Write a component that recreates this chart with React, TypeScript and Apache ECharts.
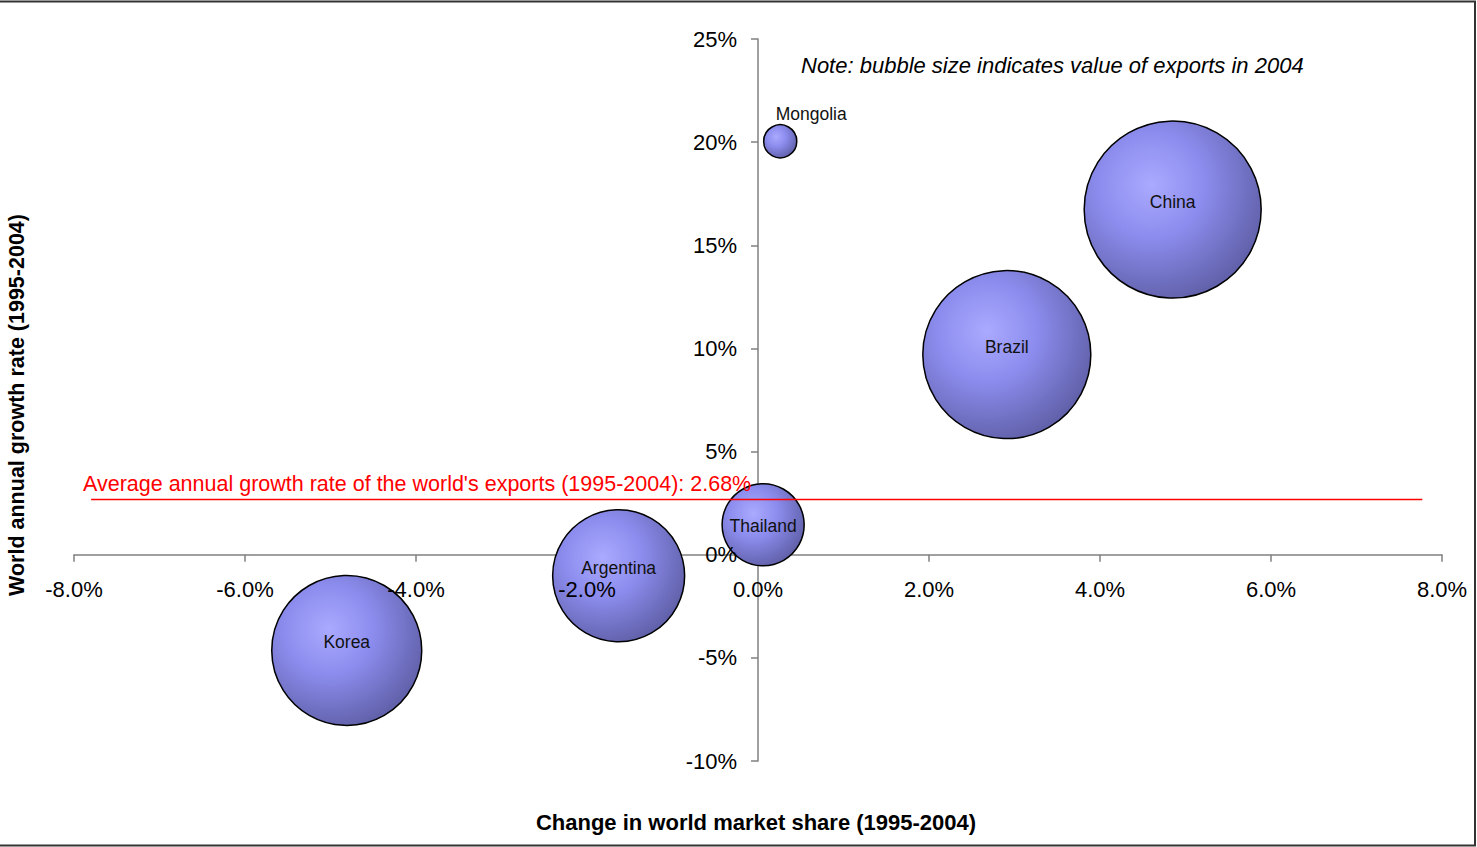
import React, { useEffect, useRef } from "react";
import * as echarts from "echarts";

// Country bubbles: change in world market share vs. world annual growth rate (1995-2004)
const countries = ["Korea", "Argentina", "Thailand", "Mongolia", "Brazil", "China"];
const marketShareChange = [-4.81, -1.63, 0.06, 0.26, 2.91, 4.85];
const annualGrowth = [-4.64, -1.02, 1.45, 20.04, 9.7, 16.73];
// Relative value of exports in 2004 (China = 100); bubble area follows it
const exportIndex = [71.8, 55.6, 21.5, 3.5, 90.1, 100];

// World average growth of exports, drawn as a horizontal reference line
const avgGrowth = 2.68;
const avgLineFrom = -7.8;
const avgLineTo = 7.77;

const xTicks = { min: -8, max: 8, interval: 2 };
const yTicks = { min: -10, max: 25, interval: 5 };

const FONT = "'Liberation Sans', Arial, sans-serif";
const MAX_DIAMETER = 177;
const WIDTH = 1477;
const HEIGHT = 847;
const GRID = { left: 74, right: 35, top: 39, bottom: 86 };

const bubbleFill = new echarts.graphic.RadialGradient(0.38, 0.36, 0.66, [
  { offset: 0, color: "#aaaaff" },
  { offset: 0.45, color: "#8c8cee" },
  { offset: 1, color: "#6262ac" },
]);

export default function App() {
  const ref = useRef<HTMLDivElement>(null);

  useEffect(() => {
    if (!ref.current) return;
    const chart = echarts.init(ref.current, null, { renderer: "svg" });

    const bubbleData = countries.map((name, i) => {
      const isSmall = name === "Mongolia";
      const isThailand = name === "Thailand";
      return {
        name,
        value: [marketShareChange[i], annualGrowth[i], exportIndex[i]],
        label: isSmall
          ? { position: "top", distance: 1, offset: [31, 0] }
          : { position: "inside", offset: [0, isThailand ? 1 : -8] },
      };
    });

    // Tick labels live on a second pair of axes drawn above the bubbles,
    // shifted from the grid edges onto the zero lines.
    const plotW = WIDTH - GRID.left - GRID.right;
    const plotH = HEIGHT - GRID.top - GRID.bottom;
    const xLabelShift = (plotH * (0 - yTicks.min)) / (yTicks.max - yTicks.min);
    const yLabelShift = (plotW * (0 - xTicks.min)) / (xTicks.max - xTicks.min);

    const labelAxisBase = {
      type: "value" as const,
      axisLine: { show: false, onZero: false },
      axisTick: { show: false },
      splitLine: { show: false },
      z: 5,
    };

    chart.setOption({
      animation: false,
      backgroundColor: "#ffffff",
      grid: { ...GRID, outerBoundsMode: "none" },
      xAxis: [
        {
          type: "value",
          ...xTicks,
          position: "bottom",
          axisLine: { onZero: true, lineStyle: { color: "#808080", width: 1.5 } },
          axisTick: { show: true, length: 7, lineStyle: { color: "#808080", width: 1.5 } },
          axisLabel: { show: false },
          splitLine: { show: false },
          z: 0,
        },
        {
          ...labelAxisBase,
          ...xTicks,
          position: "bottom",
          offset: -xLabelShift,
          axisLabel: {
            margin: 24,
            fontSize: 22,
            color: "#000",
            fontFamily: FONT,
            formatter: (v: number) => v.toFixed(1) + "%",
          },
        },
      ],
      yAxis: [
        {
          type: "value",
          ...yTicks,
          position: "left",
          axisLine: { onZero: true, lineStyle: { color: "#808080", width: 1.5 } },
          axisTick: { show: true, length: 7, lineStyle: { color: "#808080", width: 1.5 } },
          axisLabel: { show: false },
          splitLine: { show: false },
          z: 0,
        },
        {
          ...labelAxisBase,
          ...yTicks,
          position: "left",
          offset: -yLabelShift,
          axisLabel: {
            margin: 21,
            fontSize: 22,
            color: "#000",
            fontFamily: FONT,
            formatter: (v: number) => v + "%",
          },
        },
      ],
      series: [
        {
          type: "scatter",
          xAxisIndex: 0,
          yAxisIndex: 0,
          z: 2,
          data: bubbleData,
          symbol: "circle",
          symbolSize: (val: number[]) => MAX_DIAMETER * Math.sqrt(val[2] / 100),
          itemStyle: {
            color: bubbleFill,
            borderColor: "#000",
            borderWidth: 1.5,
            opacity: 1,
          },
          label: {
            show: true,
            formatter: "{b}",
            fontSize: 17.5,
            color: "#111",
            fontFamily: FONT,
          },
          emphasis: { disabled: true },
        },
        {
          type: "line",
          xAxisIndex: 0,
          yAxisIndex: 0,
          z: 3,
          data: [
            [avgLineFrom, avgGrowth],
            [avgLineTo, avgGrowth],
          ],
          symbol: "none",
          lineStyle: { color: "#ff0000", width: 1.5 },
          silent: true,
        },
      ],
      graphic: [
        {
          type: "text",
          left: 801,
          top: 54,
          style: {
            text: "Note: bubble size indicates value of exports in 2004",
            fontSize: 22,
            fontStyle: "italic",
            fontFamily: FONT,
            fill: "#000",
          },
        },
        {
          type: "text",
          left: 83,
          top: 473,
          z: 10,
          style: {
            text: `Average annual growth rate of the world's exports (1995-2004): ${avgGrowth.toFixed(2)}%`,
            fontSize: 21.5,
            fontFamily: FONT,
            fill: "#ff0000",
          },
        },
        {
          type: "text",
          x: 756,
          y: 822,
          style: {
            text: "Change in world market share (1995-2004)",
            fontSize: 22,
            fontWeight: "bold",
            fontFamily: FONT,
            fill: "#000",
            align: "center",
            verticalAlign: "middle",
          },
        },
        {
          type: "text",
          x: 17,
          y: 405,
          rotation: Math.PI / 2,
          style: {
            text: "World annual growth rate (1995-2004)",
            fontSize: 21.5,
            fontWeight: "bold",
            fontFamily: FONT,
            fill: "#000",
            align: "center",
            verticalAlign: "middle",
          },
        },
        // chart frame
        {
          type: "polyline",
          shape: { points: [[0, 1.5], [1475, 1.5], [1475, 845.5], [0, 845.5]] },
          style: { stroke: "#333", lineWidth: 2, fill: "none" },
        },
      ],
    });

    return () => chart.dispose();
  }, []);

  return (
    <div
      ref={ref}
      style={{ position: "fixed", left: 0, top: 0, width: WIDTH, height: HEIGHT }}
    />
  );
}
